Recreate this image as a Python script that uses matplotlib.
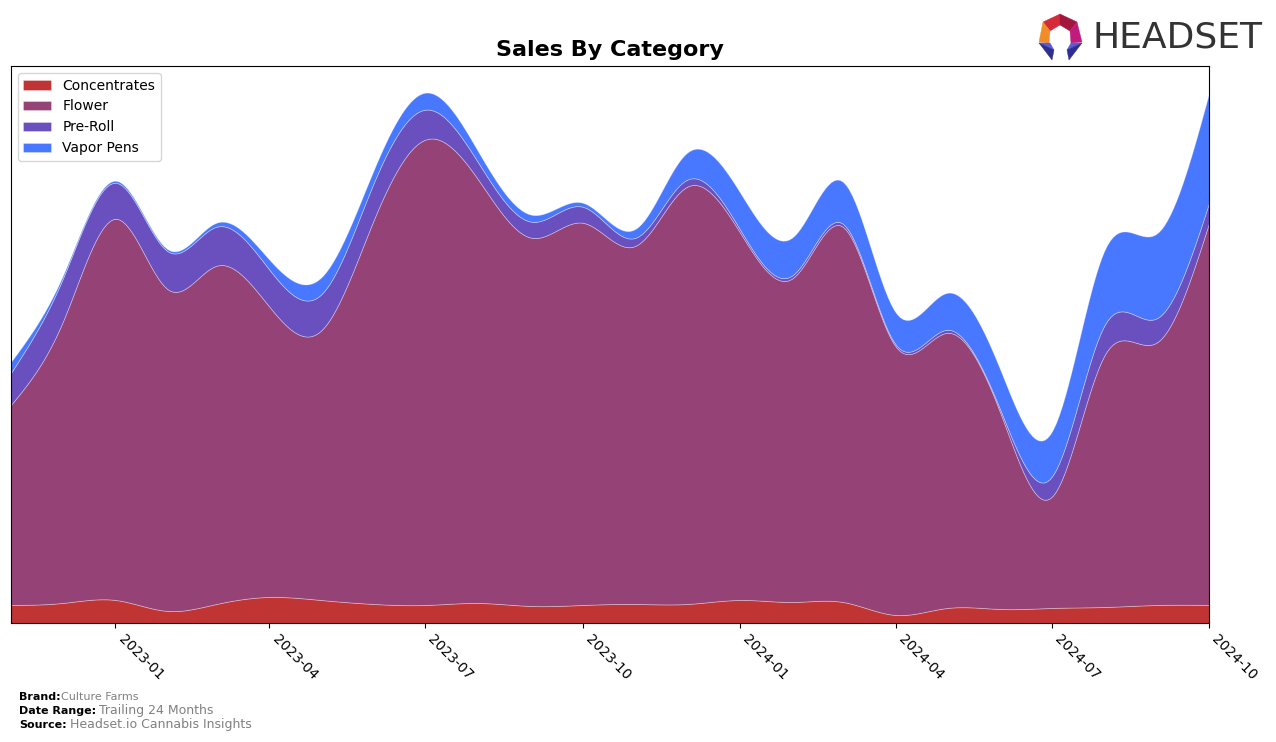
import numpy as np
import pandas as pd
import matplotlib
matplotlib.use("Agg")
import matplotlib.pyplot as plt
import matplotlib.dates as mdates
from matplotlib import font_manager
from matplotlib.patches import Polygon

# monthly sales by category (relative units)
months = pd.date_range("2022-11-01", "2024-10-01", freq="MS")
categories = ["Concentrates", "Flower", "Pre-Roll", "Vapor Pens"]
concentrates = [18, 20, 23, 12, 19, 26, 23, 19, 18, 20, 17, 18,
                19, 19, 23, 21, 21, 8, 15, 14, 15, 16, 18, 18]
flower = [200, 280, 381, 321, 338, 290, 269, 384, 465, 423, 368, 382,
          358, 417, 367, 324, 375, 268, 275, 196, 111, 252, 263, 382]
pre_roll = [32, 43, 36, 38, 39, 37, 36, 37, 30, 17, 16, 16,
            8, 7, 3, 3, 3, 2, 3, 3, 20, 30, 24, 20]
vapor_pens = [11, 3, 2, 2, 4, 10, 17, 13, 17, 11, 7, 4,
              9, 27, 37, 38, 42, 32, 37, 40, 45, 75, 85, 110]
colors = ["#C13434", "#954276", "#6A4FBF", "#4878FF"]


def smooth(x, y, n=400):
    # natural cubic spline through the monthly points
    x = np.asarray(x, float)
    y = np.asarray(y, float)
    h = np.diff(x)
    k = len(x)
    A = np.zeros((k, k))
    b = np.zeros(k)
    A[0, 0] = A[-1, -1] = 1
    for i in range(1, k - 1):
        A[i, i - 1] = h[i - 1]
        A[i, i] = 2 * (h[i - 1] + h[i])
        A[i, i + 1] = h[i]
        b[i] = 6 * ((y[i + 1] - y[i]) / h[i] - (y[i] - y[i - 1]) / h[i - 1])
    M = np.linalg.solve(A, b)
    xs = np.linspace(x[0], x[-1], n)
    j = np.clip(np.searchsorted(x, xs) - 1, 0, k - 2)
    t0 = x[j + 1] - xs
    t1 = xs - x[j]
    hj = h[j]
    ys = (M[j] * t0 ** 3 + M[j + 1] * t1 ** 3) / (6 * hj) \
        + (y[j] / hj - M[j] * hj / 6) * t0 + (y[j + 1] / hj - M[j + 1] * hj / 6) * t1
    return xs, np.clip(ys, 0, None)


xnum = mdates.date2num(months.to_pydatetime())
series = []
for s in [concentrates, flower, pre_roll, vapor_pens]:
    xs, ys = smooth(xnum, s)
    series.append(ys)

fig = plt.figure(figsize=(12.76, 7.42), dpi=100)
ax = fig.add_axes([0.0086, 0.1604, 0.939, 0.7506])

ax.stackplot(xs, *series, labels=categories, colors=colors,
             edgecolor=(1, 1, 1, 0.35), linewidth=0.6)

total = np.sum(series, axis=0)
ax.set_xlim(xnum[0], xnum[-1])
ax.set_ylim(0, total.max() * 1.05)
ax.set_yticks([])

ticks = pd.date_range("2023-01-01", "2024-10-01", freq="3MS")
ax.set_xticks(mdates.date2num(ticks.to_pydatetime()))
ax.set_xticklabels([d.strftime("%Y-%m") for d in ticks], rotation=-45,
                   ha="left", va="top", fontsize=10)

ax.set_title("Sales By Category", fontsize=16, fontweight="bold", pad=7)
ax.legend(loc="upper left", fontsize=10, handlelength=2.0)

# footer
fig.text(0.015, 0.057, "Brand:", fontsize=8, fontweight="bold")
fig.text(0.048, 0.057, "Culture Farms", fontsize=8, color="gray")
fig.text(0.015, 0.038, "Date Range:", fontsize=8, fontweight="bold")
fig.text(0.0775, 0.038, "Trailing 24 Months", fontsize=9, color="gray")
fig.text(0.015, 0.019, "Source:", fontsize=8, fontweight="bold")
fig.text(0.0545, 0.019, "Headset.io Cannabis Insights", fontsize=9, color="gray")

# logo text, narrow font if there is one
try:
    font_manager.findfont(font_manager.FontProperties(family="Liberation Sans Narrow"),
                          fallback_to_default=False)
    logo_font, logo_size = "Liberation Sans Narrow", 29.5
except Exception:
    logo_font, logo_size = "DejaVu Sans", 26
fig.text(1092 / 1276, 1 - 38 / 742, "HEADSET", fontsize=logo_size, color="#333333",
         va="center", ha="left", family=logo_font)

# logo mark, drawn in pixel positions
ot, otl, ol, otr, orr = (1060, 14), (1043, 22), (1039, 42), (1077, 22), (1082, 42)
it, itl, il, itr, ir = (1060, 25), (1050, 31), (1049, 43), (1070, 31), (1071, 43)
pieces = [
    ([ot, otl, itl, it], "#D42A3A"),
    ([ot, otr, itr, it], "#A3173F"),
    ([otl, ol, il, itl], "#F28C28"),
    ([otr, orr, ir, itr], "#C01C7D"),
    ([(1039, 43), (1050, 43), (1054, 50)], "#5C5BD6"),
    ([(1039, 43), (1054, 50), (1052, 60)], "#2D2E8F"),
    ([(1082, 43), (1071, 43), (1067, 50)], "#5C5BD6"),
    ([(1082, 43), (1067, 50), (1069, 60)], "#2D2E8F"),
]
for pts, c in pieces:
    fpts = [(px / 1276, 1 - py / 742) for px, py in pts]
    fig.patches.append(Polygon(fpts, closed=True, facecolor=c, edgecolor=c, linewidth=0.3,
                               transform=fig.transFigure, figure=fig))

fig.savefig("out.png", dpi=100)
